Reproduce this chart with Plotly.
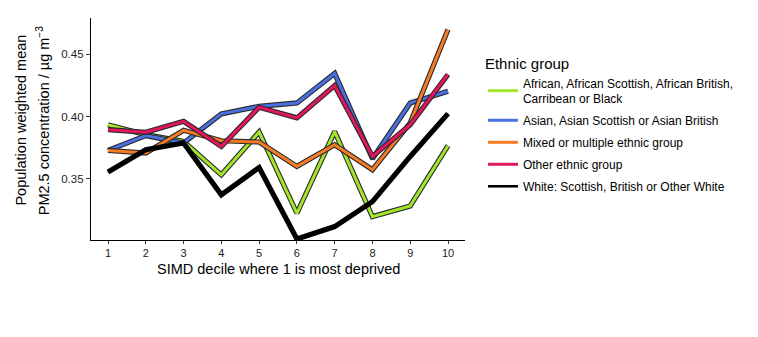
import plotly.graph_objects as go

deciles = [1, 2, 3, 4, 5, 6, 7, 8, 9, 10]
african = [0.3935, 0.3855, 0.380, 0.3532, 0.3877, 0.3223, 0.388, 0.3196, 0.3282, 0.3766]
asian = [0.3728, 0.3847, 0.3788, 0.4022, 0.4083, 0.411, 0.4347, 0.3661, 0.411, 0.4204]
mixed = [0.3728, 0.3707, 0.389, 0.3806, 0.3796, 0.360, 0.3774, 0.3573, 0.395, 0.470]
other = [0.3895, 0.3874, 0.3962, 0.376, 0.4075, 0.399, 0.425, 0.368, 0.3935, 0.4339]
white = [0.3554, 0.3734, 0.3788, 0.3371, 0.3591, 0.3016, 0.3116, 0.3317, 0.368, 0.4024]

group_names = [
    "African, African Scottish, African British,<br>Carribean or Black",
    "Asian, Asian Scottish or Asian British",
    "Mixed or multiple ethnic group",
    "Other ethnic group",
    "White: Scottish, British or Other White",
]
group_values = [african, asian, mixed, other, white]
group_colors = ["#A3E52B", "#4A6FE0", "#F67B25", "#E0165F", "#000000"]

y_ticks = [0.35, 0.40, 0.45]
y_tick_text = ["0.35", "0.40", "0.45"]

fig = go.Figure()
for i, (name, vals, col) in enumerate(zip(group_names, group_values, group_colors)):
    is_white = col == "#000000"
    fig.add_trace(go.Scatter(
        x=deciles, y=vals, mode="lines",
        line=dict(color="#2a2a2a" if not is_white else "#000000", width=5.2),
        showlegend=False, hoverinfo="skip", legendgroup=f"g{i}",
    ))
    fig.add_trace(go.Scatter(
        x=deciles, y=vals, mode="lines", name=name,
        line=dict(color=col, width=3.0 if not is_white else 2.6),
        legendgroup=f"g{i}",
    ))

font = "Liberation Sans, Arial, sans-serif"

fig.update_layout(
    width=758, height=337,
    margin=dict(l=91, r=293, t=18, b=97),
    paper_bgcolor="white", plot_bgcolor="white",
    font=dict(family=font, size=11, color="#000000"),
    xaxis=dict(
        range=[0.55, 10.45], tickvals=deciles, ticktext=[str(d) for d in deciles],
        showline=True, linecolor="#000000", linewidth=1.3,
        ticks="outside", ticklen=3, tickcolor="#333333", tickwidth=1,
        showgrid=False, zeroline=False,
        tickfont=dict(size=11, color="#222222"),
    ),
    yaxis=dict(
        range=[0.3008, 0.4793], tickvals=y_ticks, ticktext=y_tick_text,
        showline=True, linecolor="#000000", linewidth=1.3,
        ticks="outside", ticklen=4, tickcolor="#333333", tickwidth=1,
        showgrid=False, zeroline=False,
        tickfont=dict(size=11.5, color="#222222"),
    ),
    legend=dict(
        x=1.048, xanchor="left", y=0.86, yanchor="top",
        title=dict(text="Ethnic group", font=dict(size=15, color="#000000")),
        font=dict(size=12, color="#000000"),
        tracegroupgap=3, bgcolor="rgba(0,0,0,0)",
    ),
    annotations=[
        dict(text="Population weighted mean", xref="paper", yref="paper",
             x=-0.186, y=0.54, xanchor="center", yanchor="middle", textangle=-90,
             showarrow=False, font=dict(size=14.5, color="#000000")),
        dict(text="PM2.5 concentration / µg m<sup>−3</sup>", xref="paper", yref="paper",
             x=-0.128, y=0.54, xanchor="center", yanchor="middle", textangle=-90,
             showarrow=False, font=dict(size=14.5, color="#000000")),
        dict(text="SIMD decile where 1 is most deprived", xref="paper", yref="paper",
             x=0.5, y=-0.13, xanchor="center", yanchor="middle",
             showarrow=False, font=dict(size=14.5, color="#000000")),
    ],
)

fig.write_html("out.html")
